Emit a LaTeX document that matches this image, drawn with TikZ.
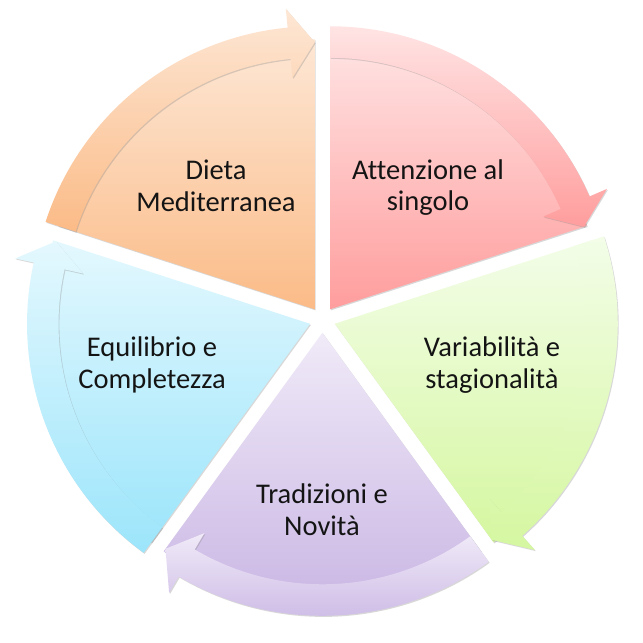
\documentclass[tikz,border=0pt]{standalone}
\usepackage{fontspec}
\setmainfont{Carlito}[Ligatures=CommonOff]
\usetikzlibrary{calc,shadows}
\definecolor{orT}{HTML}{FDE7D5}
\definecolor{orB}{HTML}{FBBB87}
\definecolor{reT}{HTML}{FFE4E4}
\definecolor{reB}{HTML}{FF9D9D}
\definecolor{grT}{HTML}{F3FDE8}
\definecolor{grB}{HTML}{D5F7A0}
\definecolor{puT}{HTML}{F0EAF8}
\definecolor{puB}{HTML}{C8B4E3}
\definecolor{blT}{HTML}{E4F8FE}
\definecolor{blB}{HTML}{9CE5FB}
\definecolor{txt}{HTML}{141414}
\begin{document}
\begin{tikzpicture}[x=1pt,y=1pt,
  lbl/.style={font=\fontsize{28.5}{32}\selectfont, inner sep=0pt, anchor=base, text=txt},
  shd/.style={drop shadow={opacity=0.3, shadow xshift=0.9pt, shadow yshift=-1.1pt}}]
\fill[white] (0,0) rectangle (643,643);
\useasboundingbox (0,0) rectangle (643,643);
\coordinate (C) at (322.4,323.2);
% wedges
\foreach \t/\ct/\cb/\n in {126/orT/orB/1, 54/reT/reB/2, -18/grT/grB/3, -90/puT/puB/4, -162/blT/blB/5} {
  \coordinate (A\n) at ($(C)+(\t:13)$);
  \path[shd, top color=\ct, bottom color=\cb]
    (A\n) -- ($(A\n)+(\t-36:270)$) arc[start angle=\t-36, end angle=\t+36, radius=270] -- cycle;
}
% circular arrows
\foreach \t/\ct/\cb/\n in {126/orT/orB/1, 54/reT/reB/2, -18/grT/grB/3, -90/puT/puB/4, -162/blT/blB/5} {
  \path[shd, top color=\ct, bottom color=\cb]
    ($(A\n)+(\t+36:283)$) arc[start angle=\t+36, end angle=\t-30.5, radius=283]
    -- ($(A\n)+(\t-30.5:302)$)
    -- ($(A\n)+(\t-36:267)$)
    -- ($(A\n)+(\t-30.5:232.5)$)
    -- ($(A\n)+(\t-30.5:251.5)$)
    arc[start angle=\t-30.5, end angle=\t+36, radius=251.5] -- cycle;
}
% labels
\node[lbl] (d1) at (216,463) {Dieta};
\node[lbl] (d2) at (216,431) {Mediterranea};
\node[lbl] (a1) at (428,463) {Attenzione al};
\node[lbl] (a2) at (428,432) {singolo};
\node[lbl] (v1) at (492,286.5) {Variabilità e};
\node[lbl] (v2) at (492,254.5) {stagionalità};
\node[lbl] (e1) at (152,286.5) {Equilibrio e};
\node[lbl] (e2) at (152,254.5) {Completezza};
\node[lbl] (t1) at (322,139) {Tradizioni e};
\node[lbl] (t2) at (322,107) {Novità};
\end{tikzpicture}
\end{document}
